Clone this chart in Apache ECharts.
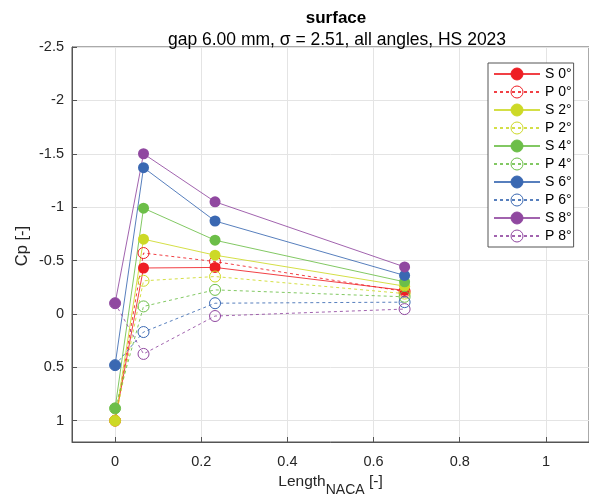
<!DOCTYPE html>
<html>
<head>
<meta charset="utf-8">
<script src="https://cdn.jsdelivr.net/npm/echarts@6/dist/echarts.min.js"></script>
<style>html,body{margin:0;padding:0;background:#fff;}#c{width:589px;height:495px;}</style>
</head>
<body>
<div id="c"></div>
<script>
// x positions (Length_NACA)
const xs = [0, 0.066, 0.232, 0.672];
// Cp values per series
const S0 = [1.0, -0.43, -0.435, -0.22];
const P0 = [1.0, -0.57, -0.49, -0.21];
const S2 = [1.0, -0.70, -0.55, -0.26];
const P2 = [1.0, -0.31, -0.35, -0.19];
const S4 = [0.885, -0.99, -0.69, -0.30];
const P4 = [0.885, -0.07, -0.225, -0.16];
const S6 = [0.48, -1.37, -0.87, -0.36];
const P6 = [0.48, 0.17, -0.10, -0.11];
const S8 = [-0.10, -1.50, -1.05, -0.44];
const P8 = [-0.10, 0.375, 0.02, -0.045];
const seriesNames = ['S 0°','P 0°','S 2°','P 2°','S 4°','P 4°','S 6°','P 6°','S 8°','P 8°'];
const seriesValues = [S0, P0, S2, P2, S4, P4, S6, P6, S8, P8];
const xTicks = [0, 0.2, 0.4, 0.6, 0.8, 1];
const yTicks = [-2.5, -2, -1.5, -1, -0.5, 0, 0.5, 1];

const colors = ['#ee1e24','#ee1e24','#cdd926','#cdd926','#6cbe48','#6cbe48','#3a68b2','#3a68b2','#9048a0','#9048a0'];
const FONT = 'Liberation Sans, Arial, Helvetica, sans-serif';

const series = seriesNames.map((name, i) => {
  const isP = name[0] === 'P';
  const c = colors[i];
  return {
    name: name,
    type: 'line',
    data: xs.map((x, j) => [x, seriesValues[i][j]]),
    symbol: 'circle',
    symbolSize: 11,
    showSymbol: true,
    animation: false,
    itemStyle: isP ? { color: 'rgba(255,255,255,0)', borderColor: c, borderWidth: 1 } : { color: c, borderColor: c, borderWidth: 0 },
    lineStyle: { color: c, width: 1, type: isP ? [3, 3] : 'solid', opacity: 0.85 },
    emphasis: { disabled: true }
  };
});

const chart = echarts.init(document.getElementById('c'), null, { renderer: 'canvas' });
chart.setOption({
  backgroundColor: '#fff',
  animation: false,
  textStyle: { fontFamily: FONT },
  title: [
    { text: 'surface', left: 331, textAlign: 'center', top: 5, textStyle: { fontFamily: FONT, fontSize: 17, fontWeight: 'bold', color: '#000' } },
    { text: 'gap 6.00 mm, σ = 2.51, all angles, HS 2023', left: 332, textAlign: 'center', top: 26, textStyle: { fontFamily: FONT, fontSize: 17.5, fontWeight: 'normal', color: '#000' } }
  ],
  graphic: [
    { type: 'text', x: 22, y: 246, rotation: Math.PI / 2, silent: true,
      style: { text: 'Cp [-]', fontFamily: FONT, fontSize: 16.5, fill: '#262626', align: 'center', verticalAlign: 'middle' } }
  ],
  grid: { left: 72, top: 47, right: 0, bottom: 53, outerBoundsMode: 'none', containLabel: false, show: true, borderColor: '#555', borderWidth: 1, backgroundColor: 'transparent' },
  legend: {
    orient: 'vertical',
    left: 488, top: 63,
    itemWidth: 46, itemHeight: 15, itemGap: 4,
    padding: [4, 2, 4, 5],
    backgroundColor: '#fff',
    borderColor: '#555', borderWidth: 1,
    itemStyle: { borderWidth: 1 },
    textStyle: { fontFamily: FONT, fontSize: 14, color: '#000' },
    data: seriesNames
  },
  xAxis: {
    type: 'value', min: -0.1, max: 1.1,
    name: '{a|Length}{s|NACA}{a| [-]}',
    nameLocation: 'middle', nameGap: 29,
    nameTextStyle: {
      rich: {
        a: { fontFamily: FONT, fontSize: 15.5, color: '#262626', lineHeight: 20, verticalAlign: 'top' },
        s: { fontFamily: FONT, fontSize: 14, color: '#262626', lineHeight: 20, padding: [9, 0, 0, 0], verticalAlign: 'top' }
      }
    },
    axisLine: { show: true, onZero: false, lineStyle: { color: '#555' } },
    axisTick: { show: true, inside: true, length: 5, lineStyle: { color: '#555' }, customValues: xTicks },
    axisLabel: { fontFamily: FONT, fontSize: 14.5, color: '#262626', margin: 12, customValues: xTicks, formatter: v => String(v) },
    splitLine: { show: true, lineStyle: { color: '#e4e4e4' } }
  },
  yAxis: {
    type: 'value', min: -2.5, max: 1.2, inverse: true,
    axisLine: { show: true, onZero: false, lineStyle: { color: '#555' } },
    axisTick: { show: true, inside: true, length: 5, lineStyle: { color: '#555' }, customValues: yTicks },
    axisLabel: { fontFamily: FONT, fontSize: 14.5, color: '#262626', margin: 8, customValues: yTicks, formatter: v => String(v) },
    splitLine: { show: true, lineStyle: { color: '#e4e4e4' } }
  },
  series: series
});
</script>
</body>
</html>
